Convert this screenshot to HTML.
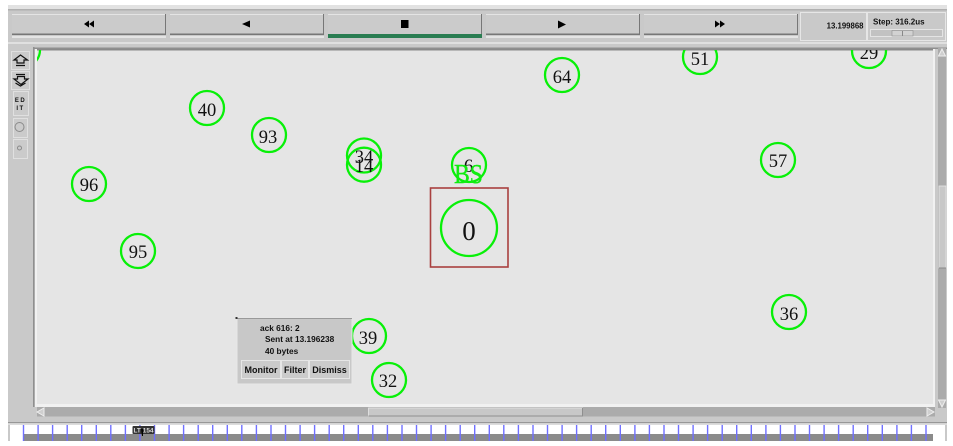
<!DOCTYPE html>
<html><head><meta charset="utf-8"><style>
html,body{margin:0;padding:0;background:#fff;width:953px;height:446px;overflow:hidden}
svg{display:block;filter:blur(.35px)}
.n{font-family:"Liberation Serif",serif;font-size:18.500px;fill:#111;text-anchor:middle}
.s{font-family:"Liberation Sans",sans-serif;font-weight:bold;fill:#111}
circle.c{fill:none;stroke:#08f008;stroke-width:2.300}
</style></head><body>
<svg width="953" height="446" viewBox="0 0 953 446" xmlns="http://www.w3.org/2000/svg">
<rect x="8" y="5" width="939" height="436" fill="#c9c9c9"/>
<rect x="8" y="5" width="939" height="4" fill="#e2e2e2"/>
<rect x="8" y="9" width="939" height="1.500" fill="#b0b0b0"/>
<!-- toolbar buttons -->
<g fill="#cbcbcb" stroke="none">
<rect x="12" y="14" width="154" height="20"/><rect x="170" y="14" width="154" height="20"/><rect x="328" y="14" width="154" height="20"/><rect x="486" y="14" width="154" height="20"/><rect x="644" y="14" width="154" height="20"/>
</g>
<g fill="#e4e4e4">
<rect x="12" y="14" width="154" height="1"/><rect x="170" y="14" width="154" height="1"/><rect x="328" y="14" width="154" height="1"/><rect x="486" y="14" width="154" height="1"/><rect x="644" y="14" width="154" height="1"/>
<rect x="12" y="36" width="154" height="2"/><rect x="170" y="36" width="154" height="2"/><rect x="486" y="36" width="154" height="2"/><rect x="644" y="36" width="154" height="2"/>
</g>
<g fill="#777">
<rect x="12" y="33.500" width="154" height="1.500"/><rect x="170" y="33.500" width="154" height="1.500"/><rect x="486" y="33.500" width="154" height="1.500"/><rect x="644" y="33.500" width="154" height="1.500"/>
<rect x="165" y="14" width="1" height="20"/><rect x="323" y="14" width="1" height="20"/><rect x="481" y="14" width="1" height="20"/><rect x="639" y="14" width="1" height="20"/><rect x="797" y="14" width="1" height="20"/>
</g>
<rect x="328" y="34" width="154" height="4" fill="#2a7d52"/>
<rect x="8" y="42" width="939" height="2" fill="#e0e0e0"/>
<rect x="34" y="47.500" width="913" height="1.500" fill="#8f8f8f"/>
<!-- toolbar icons -->
<g fill="#000">
<path d="M89 20.500v7l-5-3.500zM94 20.500v7l-5-3.500z"/>
<path d="M250 20.500v7l-8-3.500z"/>
<rect x="401" y="20" width="7.500" height="8"/>
<path d="M558 20.500v8l8-4z"/>
<path d="M715 20.500v7l5-3.500zM720 20.500v7l5-3.500z"/>
</g>
<!-- time panel -->
<rect x="800.500" y="12.500" width="66" height="28" fill="#c9c9c9" stroke="#e6e6e6"/>
<rect x="867.500" y="12.500" width="78" height="28" fill="#c9c9c9" stroke="#e6e6e6"/>
<text x="863.500" y="28.500" class="s" font-size="7.800" text-anchor="end">13.199868</text>
<text x="873" y="24.500" class="s" font-size="8">Step: 316.2us</text>
<rect x="870.500" y="29.500" width="72" height="7" fill="#c2c2c2" stroke="#e4e4e4"/>
<rect x="892" y="30.500" width="21" height="5.500" fill="#d2d2d2" stroke="#8f8f8f" stroke-width=".6"/>
<rect x="902" y="31" width="1" height="5" fill="#888"/>
<!-- left tools -->
<g fill="#cbcbcb" stroke="#e0e0e0">
<rect x="11.500" y="51.500" width="18" height="18"/>
<rect x="11.500" y="71.500" width="18" height="18"/>
<rect x="13.500" y="91.500" width="15" height="24"/>
<rect x="13.500" y="118.500" width="14" height="19"/>
<rect x="13.500" y="139.500" width="14" height="19"/>
</g>
<g fill="none" stroke="#111" stroke-width="1.200">
<path d="M14 60l6.500-5 7 5h-3.500v3h-7v-3zM16 65.500h9"/>
<path d="M16 74.500h9M14 79h3.500v-2.500h7v2.500h3.500l-7 5.500zM15.500 83l5 3 5-3"/>
</g>
<text x="20.500" y="102" class="s" font-size="6" text-anchor="middle" letter-spacing="1.500">ED</text>
<text x="20.500" y="110" class="s" font-size="6" text-anchor="middle" letter-spacing="1.500">IT</text>
<circle cx="19.500" cy="127" r="4.500" fill="none" stroke="#8a8a8a"/>
<circle cx="19.500" cy="148" r="2" fill="none" stroke="#8a8a8a"/>
<!-- canvas frame -->
<rect x="33" y="47" width="1.500" height="360" fill="#8f8f8f"/>
<rect x="35" y="49" width="900" height="358" fill="#f1f1f1"/>
<rect x="37" y="50" width="896" height="354" fill="#e5e5e5"/>
<rect x="37" y="49" width="896" height="1.500" fill="#8a8a8a"/>
<!-- clipped nodes and nodes -->
<clipPath id="cv"><rect x="37" y="50" width="897" height="354"/></clipPath>
<g clip-path="url(#cv)">
<circle class="c" cx="23" cy="50" r="17"/>
<circle class="c" cx="207" cy="108" r="17"/>
<circle class="c" cx="269" cy="135" r="17"/>
<circle class="c" cx="89" cy="184" r="17"/>
<circle class="c" cx="138" cy="251" r="17"/>
<circle class="c" cx="364" cy="155.500" r="17"/>
<circle class="c" cx="364" cy="164.700" r="17"/>
<circle class="c" cx="469" cy="165" r="17"/>
<circle class="c" cx="469" cy="228" r="28"/>
<circle class="c" cx="562" cy="75" r="17"/>
<circle class="c" cx="700" cy="57" r="17"/>
<circle class="c" cx="869" cy="51" r="17"/>
<circle class="c" cx="778" cy="160" r="17"/>
<circle class="c" cx="789" cy="312" r="17"/>
<circle class="c" cx="369" cy="336" r="17"/>
<circle class="c" cx="389" cy="380" r="17"/>
<text class="n" x="207" y="116">40</text>
<text class="n" x="268" y="143">93</text>
<text class="n" x="89" y="191">96</text>
<text class="n" x="138" y="258">95</text>
<text class="n" x="364" y="163">34</text>
<text class="n" x="364" y="172">14</text>
<text class="n" x="468.500" y="172">6</text>
<text class="n" x="469" y="240" style="font-size:27px">0</text>
<text class="n" x="562" y="83">64</text>
<text class="n" x="700" y="65">51</text>
<text class="n" x="869" y="59">29</text>
<text class="n" x="778" y="167">57</text>
<text class="n" x="789" y="320">36</text>
<text class="n" x="368" y="344">39</text>
<text class="n" x="388" y="387">32</text>
<text x="454" y="183" font-family="Liberation Serif, serif" font-size="27" fill="#10ec10" stroke="#10ec10" stroke-width=".4" textLength="29" lengthAdjust="spacingAndGlyphs">BS</text>
</g>
<rect x="430.500" y="188" width="77.500" height="79" fill="none" stroke="#a9403f" stroke-width="1.600"/>
<!-- popup -->
<rect x="237" y="318" width="115" height="66" fill="#c8c8c8" stroke="#e8e8e8"/>
<rect x="237" y="318" width="115" height="1" fill="#999"/>
<rect x="235.500" y="317" width="2" height="2" fill="#333"/>
<text x="260" y="331" class="s" font-size="8.300">ack 616: 2</text>
<text x="265" y="342" class="s" font-size="8.300">Sent at 13.196238</text>
<text x="265" y="354" class="s" font-size="8.300">40 bytes</text>
<g fill="#cbcbcb" stroke="#e6e6e6">
<rect x="241.500" y="360.500" width="39" height="18"/>
<rect x="281.500" y="360.500" width="27" height="18"/>
<rect x="309.500" y="360.500" width="40" height="18"/>
</g>
<text x="261" y="373" class="s" font-size="9" text-anchor="middle">Monitor</text>
<text x="295" y="373" class="s" font-size="9" text-anchor="middle">Filter</text>
<text x="329.500" y="373" class="s" font-size="9" text-anchor="middle">Dismiss</text>
<!-- scrollbars -->
<rect x="938" y="48" width="8" height="360" fill="#ababab"/>
<rect x="939" y="186" width="7" height="82" fill="#c8c8c8" stroke="#e6e6e6" stroke-width=".8"/>
<rect x="939" y="267.500" width="7" height="1" fill="#8a8a8a"/>
<path d="M938.500 56l3.500-7 3.500 7z" fill="#cfcfcf" stroke="#eee"/>
<path d="M938.500 400l3.500 7 3.500-7z" fill="#cfcfcf" stroke="#eee"/>
<rect x="37" y="407" width="898" height="9.500" fill="#ababab"/>
<rect x="368.500" y="408" width="214" height="8" fill="#c8c8c8" stroke="#e6e6e6" stroke-width=".8"/>
<rect x="368.500" y="415.500" width="214" height="1" fill="#8f8f8f"/>
<rect x="582" y="408" width="1" height="8.500" fill="#8f8f8f"/>
<path d="M44 408v8l-7-4z" fill="#cfcfcf" stroke="#eee"/>
<path d="M927 408v8l7-4z" fill="#cfcfcf" stroke="#eee"/>
<!-- timeline -->
<rect x="8" y="422" width="939" height="1.200" fill="#979797"/>
<rect x="8" y="423.200" width="939" height="1.800" fill="#dcdcdc"/>
<rect x="10" y="425" width="935" height="16" fill="#fff"/>
<rect x="23" y="434" width="910" height="7" fill="#8b8b8b"/>
<path fill="none" stroke="#6f6fff" stroke-width="1.400" d="M23.500 425V441M38.100 425V441M52.600 425V441M67.200 425V441M81.700 425V441M96.300 425V441M110.800 425V441M125.400 425V441M139.900 425V441M154.500 425V441M169.100 425V441M183.600 425V441M198.200 425V441M212.700 425V441M227.300 425V441M241.800 425V441M256.400 425V441M271 425V441M285.500 425V441M300.100 425V441M314.600 425V441M329.200 425V441M343.700 425V441M358.300 425V441M372.800 425V441M387.400 425V441M402 425V441M416.500 425V441M431.100 425V441M445.600 425V441M460.200 425V441M474.700 425V441M489.300 425V441M503.800 425V441M518.400 425V441M533 425V441M547.500 425V441M562.100 425V441M576.600 425V441M591.200 425V441M605.700 425V441M620.300 425V441M634.900 425V441M649.400 425V441M664 425V441M678.500 425V441M693.100 425V441M707.600 425V441M722.200 425V441M736.700 425V441M751.300 425V441M765.900 425V441M780.400 425V441M795 425V441M809.500 425V441M824.100 425V441M838.600 425V441M853.200 425V441M867.700 425V441M882.300 425V441M896.900 425V441M911.400 425V441M926 425V441"/>
<rect x="132.500" y="426" width="22" height="8" fill="#333" rx="1"/>
<text x="143.500" y="432.500" font-family="Liberation Sans, sans-serif" font-size="6.500" font-weight="bold" fill="#ddd" text-anchor="middle">LT 154</text>
<path d="M143 429h-2l1 7h1z" fill="#000"/>
<rect x="0" y="441" width="953" height="5" fill="#fff"/>
</svg>
</body></html>
